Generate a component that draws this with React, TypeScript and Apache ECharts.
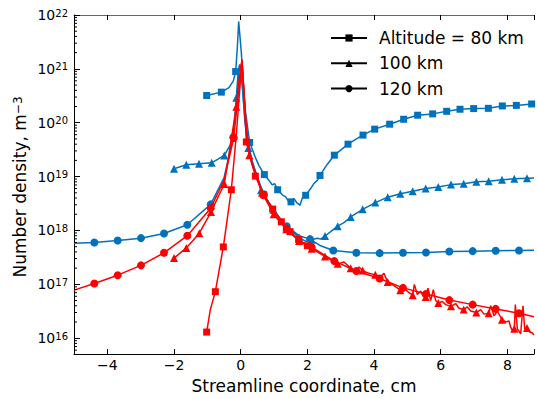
import React, { useEffect, useRef } from 'react';
import * as echarts from 'echarts';

const FONT = 'DejaVu Sans';
const BLUE = '#0072bd';
const RED = '#ff0000';

const X_MIN = -5;
const X_MAX = 8.8;
const Y_MIN = 5.07e15;
const Y_MAX = 1e22;

const X_TITLE = 'Streamline coordinate, cm';
const Y_TITLE = 'Number density, m';
const Y_TITLE_SUP = '−3';
const LEGEND_NAMES = ['Altitude = 80 km', '100 km', '120 km'];

// ---- Blue, 80 km (squares)
const blue80Markers: [number, number][] = [
  [-1.02, 3.2e20], [-0.58, 3.7e20], [-0.15, 8.9e20], [0.27, 4.3e19], [0.71, 1.09e19],
  [1.11, 5.7e18], [1.51, 3.4e18], [1.95, 4.5e18], [2.38, 1.05e19], [2.81, 2.5e19],
  [3.22, 4.0e19], [3.67, 5.9e19], [4.02, 7.6e19], [4.47, 9.4e19], [4.89, 1.16e20],
  [5.31, 1.38e20], [5.76, 1.46e20], [6.18, 1.63e20], [6.58, 1.78e20], [6.99, 1.83e20],
  [7.43, 1.85e20], [7.85, 2.05e20], [8.27, 2.1e20], [8.73, 2.23e20],
];
const blue80Line: [number, number][] = [
  [-0.35, 4.5e20], [-0.22, 6.0e20], [-0.1, 2.5e21], [-0.06, 7.6e21], [0.02, 2.0e21],
  [0.07, 6e20], [0.15, 1.5e20], [0.45, 2.2e19], [0.55, 1.6e19], [0.85, 8.5e18],
  [0.95, 7.0e18], [1.02, 7.4e18], [1.25, 4.6e18], [1.35, 4.2e18], [1.42, 3.6e18],
  [1.6, 3.9e18], [1.68, 3.3e18], [1.78, 2.95e18], [1.85, 4.0e18], [2.1, 6.0e18],
  [2.2, 7.5e18], [2.3, 8.5e18], [2.6, 1.7e19], [3.0, 3.1e19], [3.45, 4.9e19], [8.8, 2.25e20],
];

// ---- Blue, 100 km (triangles)
const blue100Markers: [number, number][] = [
  [-2.0, 1.4e19], [-1.63, 1.66e19], [-1.25, 1.74e19], [-0.87, 1.8e19], [-0.49, 2.47e19],
  [-0.13, 2.9e20], [0.23, 3.4e19], [0.61, 5.6e18], [0.99, 2.4e18], [1.37, 1.15e18],
  [1.75, 7.5e17], [2.13, 6.7e17], [2.53, 7.9e17], [2.91, 1.2e18], [3.3, 1.78e18],
  [3.66, 2.47e18], [4.04, 3.29e18], [4.41, 4.15e18], [4.79, 4.8e18], [5.16, 5.35e18],
  [5.55, 6.0e18], [5.93, 6.4e18], [6.31, 7.1e18], [6.69, 7.4e18], [7.07, 8.0e18],
  [7.44, 8.2e18], [7.84, 8.7e18], [8.21, 9.1e18], [8.59, 9.3e18],
];
const blue100Line: [number, number][] = [
  [-0.31, 3.9e19], [-0.23, 5.9e19], [-0.17, 1.4e20], [-0.08, 8e20], [-0.03, 1.2e21],
  [0.04, 6e20], [0.12, 1.2e20], [1.95, 6.3e17], [2.05, 6.4e17], [2.3, 7.2e17],
  [2.4, 6.9e17], [2.7, 9.5e17], [3.1, 1.4e18], [8.8, 9.4e18],
];

// ---- Blue, 120 km (circles)
const blue120Markers: [number, number][] = [
  [-4.39, 6.0e17], [-3.69, 6.5e17], [-2.99, 7.2e17], [-2.3, 8.8e17], [-1.6, 1.28e18],
  [-0.9, 3.05e18], [-0.22, 5.4e19], [0.69, 4.7e18], [1.38, 1.2e18], [2.08, 6.9e17],
  [2.78, 4.26e17], [3.47, 3.85e17], [4.17, 3.8e17], [4.87, 3.85e17], [5.56, 3.9e17],
  [6.26, 4.07e17], [6.96, 4.13e17], [7.65, 4.2e17], [8.35, 4.26e17],
];
const blue120Line: [number, number][] = [
  [-5.0, 5.8e17], [-0.5, 9.5e18], [-0.1, 4e20], [-0.03, 1.2e21], [0.05, 5e20],
  [0.15, 8e19], [0.35, 1.8e19], [1.0, 2.3e18], [1.75, 8e17], [2.4, 5.2e17], [8.8, 4.3e17],
];

// ---- Red, 80 km (squares)
const red80Markers: [number, number][] = [
  [-1.02, 1.3e16], [-0.76, 7.3e16], [-0.52, 4.95e17], [-0.28, 5.7e18], [0.17, 4.4e19],
  [0.44, 1.02e19], [0.69, 4.6e18], [0.96, 2.5e18], [1.22, 1.45e18], [1.48, 9.5e17],
  [1.74, 6.8e17], [2.0, 5.2e17],
];
const red80Line: [number, number][] = [
  [-0.91, 3.4e16], [-0.14, 5.1e19], [0.04, 1.48e21], [0.11, 2.8e20], [2.05, 5.0e17],
];

// ---- Red, 100 km (triangles)
const red100Markers: [number, number][] = [
  [-2.0, 3.07e17], [-1.63, 4.75e17], [-1.24, 8.9e17], [-0.89, 2.2e18], [-0.49, 7.3e18],
  [-0.13, 1.97e20], [0.26, 2.5e19], [0.64, 5.0e18], [0.99, 2.0e18], [1.37, 1.05e18],
  [1.75, 6.4e17], [2.13, 4.6e17], [2.53, 3.3e17], [2.91, 2.4e17], [3.3, 2.0e17],
  [3.66, 1.8e17], [4.04, 1.5e17], [4.41, 1.1e17], [4.79, 7.8e16], [5.16, 6.3e16],
  [5.55, 5.8e16], [5.93, 4.5e16], [6.31, 3.9e16], [6.69, 3.4e16], [7.07, 3.0e16],
  [7.44, 2.9e16], [7.84, 2.2e16], [8.21, 1.5e16], [8.59, 1.55e16],
];
const red100Line: [number, number][] = [
  [-0.05, 6e20], [0.04, 1.48e21], [0.12, 2e20], [3.1, 2.6e17], [3.45, 1.7e17],
  [3.55, 2.1e17], [3.85, 1.6e17], [4.2, 1.4e17], [4.3, 1.6e17], [4.6, 9.5e16],
  [4.9, 8.5e16], [5.05, 7.0e16], [5.21, 1.0e17], [5.3, 6.5e16], [5.4, 7.5e16],
  [5.48, 6.0e16], [5.62, 8.5e16], [5.7, 5.0e16], [5.78, 8.0e16], [5.85, 5.0e16],
  [6.05, 4.8e16], [6.15, 4.2e16], [6.45, 4.4e16], [6.55, 3.6e16], [6.8, 3.8e16],
  [6.9, 3.2e16], [7.2, 3.4e16], [7.3, 2.8e16], [7.5, 4.0e16], [7.6, 2.6e16],
  [7.7, 3.2e16], [7.95, 2.0e16], [8.05, 2.1e16], [8.1, 1.6e16], [8.15, 1.4e16],
  [8.24, 4.2e16], [8.3, 1.5e16], [8.4, 1.2e16], [8.47, 4.0e16], [8.52, 1.5e16],
  [8.67, 1.3e16], [8.75, 1.25e16], [8.8, 1.15e16],
];

// ---- Red, 120 km (circles)
const red120Markers: [number, number][] = [
  [-4.39, 1.04e17], [-3.69, 1.48e17], [-2.99, 2.25e17], [-2.3, 3.85e17], [-1.6, 8.0e17],
  [-0.9, 2.58e18], [-0.21, 5.2e19], [0.69, 4.5e18], [1.38, 1.09e18], [2.13, 4.9e17],
  [2.81, 2.7e17], [3.47, 1.77e17], [4.17, 1.28e17], [4.87, 8.6e16], [5.56, 6.6e16],
  [6.26, 5.1e16], [6.96, 4.2e16], [7.65, 3.5e16], [8.35, 2.9e16],
];
const red120Line: [number, number][] = [
  [-5.0, 7.8e16], [-0.5, 8.5e18], [-0.08, 3e20], [0.04, 1.48e21], [0.11, 2.8e20],
  [0.19, 4.5e19], [0.34, 1.66e19], [1.0, 2.3e18], [1.75, 6.6e17], [8.8, 2.5e16],
];

const Y_DECADES = [16, 17, 18, 19, 20, 21, 22];
const MINOR_MULTS = [2, 3, 4, 5, 6, 7, 8, 9];
const MINOR_DECADES = [15, 16, 17, 18, 19, 20, 21];

const merge = (a: [number, number][], b: [number, number][]) =>
  [...a, ...b].sort((p, q) => p[0] - q[0]);

const CURVES = [
  { color: BLUE, symbol: 'rect', size: 7, markers: blue80Markers, line: blue80Line },
  { color: BLUE, symbol: 'triangle', size: 8, markers: blue100Markers, line: blue100Line },
  { color: BLUE, symbol: 'circle', size: 8, markers: blue120Markers, line: blue120Line },
  { color: RED, symbol: 'rect', size: 7, markers: red80Markers, line: red80Line },
  { color: RED, symbol: 'triangle', size: 8, markers: red100Markers, line: red100Line },
  { color: RED, symbol: 'circle', size: 8, markers: red120Markers, line: red120Line },
];
const LEGEND_SYMBOLS = ['rect', 'triangle', 'circle'];

export default function App() {
  const ref = useRef<HTMLDivElement>(null);
  useEffect(() => {
    document.body.style.margin = '0';
    if (!ref.current) return;
    const chart = echarts.init(ref.current, undefined, { renderer: 'svg' });

    const minorData: [number, number][] = [];
    MINOR_DECADES.forEach((d) =>
      MINOR_MULTS.forEach((m) => {
        const v = m * Math.pow(10, d);
        if (v >= Y_MIN && v <= Y_MAX) minorData.push([X_MIN, v]);
      })
    );

    const series: any[] = [];
    CURVES.forEach((c, i) => {
      series.push({
        type: 'line',
        data: merge(c.markers, c.line),
        symbol: 'none',
        showSymbol: false,
        lineStyle: { color: c.color, width: 1.5 },
        itemStyle: { color: c.color },
        z: 2 + i,
        silent: true,
      });
      series.push({
        type: 'scatter',
        data: c.markers,
        symbol: c.symbol,
        symbolSize: c.size,
        itemStyle: { color: c.color, opacity: 1 },
        z: 2 + i,
        silent: true,
      });
    });
    LEGEND_NAMES.forEach((n, i) => {
      series.push({
        type: 'line',
        name: n,
        data: [],
        symbol: LEGEND_SYMBOLS[i],
        symbolSize: 7,
        lineStyle: { color: '#000', width: 1.5 },
        itemStyle: { color: '#000' },
      });
    });
    series.push({
      type: 'custom',
      data: minorData,
      silent: true,
      z: 20,
      clip: false,
      renderItem: (params: any, api: any) => {
        const p = api.coord([api.value(0), api.value(1)]);
        return {
          type: 'line',
          shape: { x1: p[0], y1: p[1], x2: p[0] + 3, y2: p[1] },
          style: { stroke: '#000', lineWidth: 1 },
        };
      },
    });

    const xLabel = (v: number) => {
      const r = Math.round(v);
      if (Math.abs(v - r) > 1e-6 || r % 2 !== 0) return '';
      return r < 0 ? '−' + -r : String(r);
    };

    chart.setOption({
      animation: false,
      backgroundColor: '#fff',
      grid: { left: 74, right: 0, top: 15, bottom: 42, containLabel: false },
      legend: {
        data: LEGEND_NAMES,
        orient: 'vertical',
        left: 325,
        top: 23,
        itemWidth: 36,
        itemHeight: 9,
        itemGap: 5.3,
        selectedMode: false,
        textStyle: { fontFamily: FONT, fontSize: 17, color: '#000', lineHeight: 20, padding: [0, 0, 0, 7] },
      },
      xAxis: [
        {
          type: 'value',
          min: X_MIN,
          max: X_MAX,
          splitNumber: 7,
          position: 'bottom',
          name: X_TITLE,
          nameLocation: 'middle',
          nameGap: 19,
          nameTextStyle: { fontFamily: FONT, fontSize: 17, color: '#000' },
          axisLine: { show: true, onZero: false, lineStyle: { color: '#000', width: 1 } },
          axisTick: { show: true, inside: true, length: 5, lineStyle: { color: '#000' } },
          axisLabel: { formatter: xLabel, fontFamily: FONT, fontSize: 14, color: '#000', margin: 4 },
          splitLine: { show: false },
        },
        {
          type: 'value',
          min: X_MIN,
          max: X_MAX,
          splitNumber: 7,
          position: 'top',
          axisLine: { show: true, onZero: false, lineStyle: { color: '#666', width: 1 } },
          axisTick: { show: true, inside: true, length: 5, lineStyle: { color: '#000' } },
          axisLabel: { show: false },
          splitLine: { show: false },
        },
      ],
      yAxis: {
        type: 'log',
        logBase: 10,
        min: Y_MIN,
        max: Y_MAX,
        position: 'left',
        axisLine: { show: true, onZero: false, lineStyle: { color: '#000', width: 1 } },
        axisTick: { show: true, inside: true, length: 6, lineStyle: { color: '#000' } },
        splitLine: { show: false },
        axisLabel: {
          margin: 6,
          formatter: (v: number) => {
            const l = Math.log10(v);
            const e = Math.round(l);
            if (Math.abs(l - e) > 0.01 || !Y_DECADES.includes(e)) return '';
            return `{b|10}{s|${e}}`;
          },
          rich: {
            b: { fontFamily: FONT, fontSize: 14, color: '#000', verticalAlign: 'bottom', lineHeight: 14, padding: [4, 0, 0, 0] },
            s: { fontFamily: FONT, fontSize: 10, color: '#000', verticalAlign: 'top', lineHeight: 10 },
          },
        },
      },
      graphic: [
        {
          type: 'text',
          x: 20,
          y: 187,
          rotation: Math.PI / 2,
          silent: true,
          style: {
            text: `{a|${Y_TITLE}}{s|${Y_TITLE_SUP}}`,
            align: 'center',
            verticalAlign: 'middle',
            rich: {
              a: { fontFamily: FONT, fontSize: 17, fill: '#000', verticalAlign: 'bottom', lineHeight: 17, padding: [5, 0, 0, 0] },
              s: { fontFamily: FONT, fontSize: 12, fill: '#000', verticalAlign: 'top', lineHeight: 12 },
            },
          },
        },
      ],
      series,
    });
    return () => chart.dispose();
  }, []);
  return <div ref={ref} style={{ width: 537, height: 399 }} />;
}
